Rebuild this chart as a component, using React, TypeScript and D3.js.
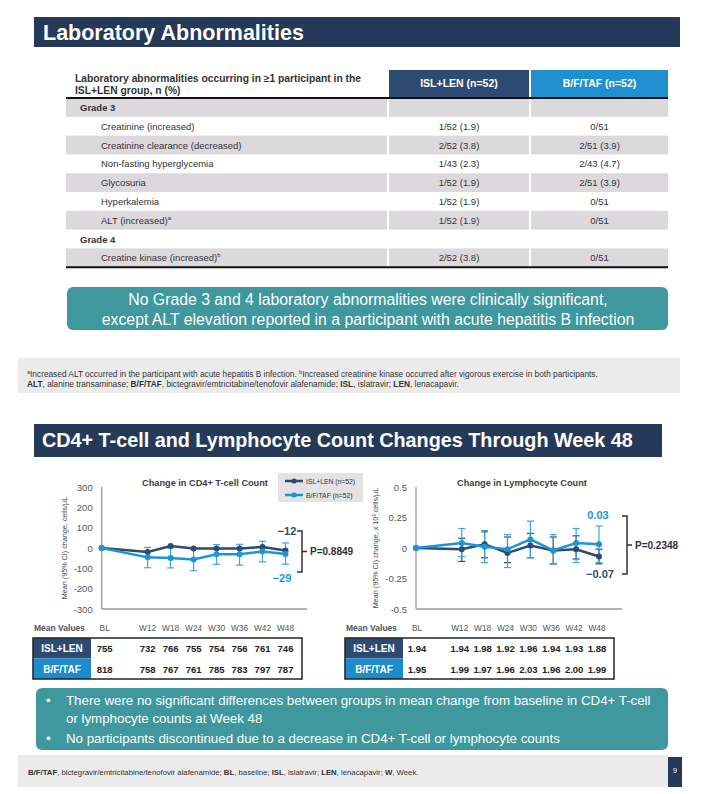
import React from 'react';
import * as d3 from 'd3';

const FONT = '"Liberation Sans", Arial, Helvetica, sans-serif';
const NAVY = '#253a58';
const DARK = '#2c4a72';
const LIGHT = '#1c95d3';
const LIGHT_ERR = '#3aa6dc';
const TEAL = '#3e989e';
const GRAY_ROW = '#dcd9dd';

// ---------- Table data ----------
const labLabels = [
  'Grade 3',
  'Creatinine (increased)',
  'Creatinine clearance (decreased)',
  'Non-fasting hyperglycemia',
  'Glycosuria',
  'Hyperkalemia',
  'ALT (increased)',
  'Grade 4',
  'Creatine kinase (increased)',
];
const labSup = ['', '', '', '', '', '', 'a', '', 'b'];
const labIsGrade = [true, false, false, false, false, false, false, true, false];
const labIsl = ['', '1/52 (1.9)', '2/52 (3.8)', '1/43 (2.3)', '1/52 (1.9)', '1/52 (1.9)', '1/52 (1.9)', '', '2/52 (3.8)'];
const labBf = ['', '0/51', '2/51 (3.9)', '2/43 (4.7)', '2/51 (3.9)', '0/51', '0/51', '', '0/51'];

// ---------- Chart data ----------
const weeks = [0, 12, 18, 24, 30, 36, 42, 48];
const weekLabels = ['BL', 'W12', 'W18', 'W24', 'W30', 'W36', 'W42', 'W48'];

const cd4IslChange = [0, -20, 10, -2, -3, -3, 5, -12];
const cd4BfChange = [0, -46, -49, -56, -31, -31, -17, -29];
const cd4BfLow = [0, -97, -98, -112, -80, -84, -68, -80];
const cd4BfHigh = [0, 3, 0, 0, 17, 18, 33, 25];
const cd4Ticks = [300, 200, 100, 0, -100, -200, -300];

const lymIslChange = [0, -0.01, 0.03, -0.04, 0.02, -0.02, -0.01, -0.07];
const lymIslLow = [0, -0.11, -0.08, -0.12, -0.08, -0.13, -0.09, -0.13];
const lymIslHigh = [0, 0.08, 0.14, 0.09, 0.12, 0.09, 0.1, -0.01];
const lymBfChange = [0, 0.04, 0.01, -0.01, 0.07, -0.02, 0.04, 0.03];
const lymBfLow = [0, -0.07, -0.12, -0.16, -0.08, -0.13, -0.12, -0.12];
const lymBfHigh = [0, 0.16, 0.13, 0.11, 0.22, 0.11, 0.16, 0.18];
const lymTicks = [0.5, 0.25, 0, -0.25, -0.5];

const cd4IslMean = ['755', '732', '766', '755', '754', '756', '761', '746'];
const cd4BfMean = ['818', '758', '767', '761', '785', '783', '797', '787'];
const lymIslMean = ['1.94', '1.94', '1.98', '1.92', '1.96', '1.94', '1.93', '1.88'];
const lymBfMean = ['1.95', '1.99', '1.97', '1.96', '2.03', '1.96', '2.00', '1.99'];

type Series = {
  values: number[];
  low?: number[];
  high?: number[];
  color: string;
  errColor: string;
};

type ChartProps = {
  x0: number;
  x48: number;
  axisEnd: number;
  domain: [number, number];
  ticks: number[];
  tickFmt: (v: number) => string;
  series: Series[];
  title: string;
  titleX: number;
  yTitle: string;
  yTitleX: number;
  endLabels: { text: string; color: string; x: number; y: number }[];
  bracketX: number;
  bracketTop: number;
  bracketBot: number;
  pText: string;
};

function ChangeChart(p: ChartProps) {
  const x = d3.scaleLinear().domain([0, 48]).range([p.x0, p.x48]);
  const y = d3.scaleLinear().domain(p.domain).range([609, 487]);
  const line = d3
    .line<number>()
    .x((_, i) => x(weeks[i]))
    .y((d) => y(d));
  const mid = (p.bracketTop + p.bracketBot) / 2;
  return (
    <g fontFamily={FONT}>
      <text x={p.titleX} y={486} textAnchor="middle" fontSize={9.2} fontWeight="bold" fill="#404040">
        {p.title}
      </text>
      <text
        transform={`translate(${p.yTitleX},548) rotate(-90)`}
        textAnchor="middle"
        fontSize={7.2}
        fill="#444"
      >
        {p.yTitle}
      </text>
      <line x1={p.x0} x2={p.x0} y1={y(p.domain[1])} y2={y(p.domain[0])} stroke="#9a9a9a" strokeWidth={1.3} />
      <line x1={p.x0} x2={p.axisEnd} y1={y(p.domain[0])} y2={y(p.domain[0])} stroke="#9a9a9a" strokeWidth={1.3} />
      {p.ticks.map((t) => (
        <text key={t} x={p.x0 - 9} y={y(t) + 3.5} textAnchor="end" fontSize={9.5} fill="#555">
          {p.tickFmt(t)}
        </text>
      ))}
      {p.series.map((s, si) =>
        s.low && s.high
          ? weeks.map((w, i) =>
              s.low![i] === s.high![i] ? null : (
                <g key={`e${si}-${i}`} stroke={s.errColor} strokeWidth={1.2}>
                  <line x1={x(w)} x2={x(w)} y1={y(s.low![i])} y2={y(s.high![i])} />
                  <line x1={x(w) - 3.5} x2={x(w) + 3.5} y1={y(s.low![i])} y2={y(s.low![i])} />
                  <line x1={x(w) - 3.5} x2={x(w) + 3.5} y1={y(s.high![i])} y2={y(s.high![i])} />
                </g>
              )
            )
          : null
      )}
      {p.series.map((s, si) => (
        <g key={`s${si}`}>
          <path d={line(s.values) || ''} fill="none" stroke={s.color} strokeWidth={2.5} />
          {s.values.map((v, i) => (
            <circle key={i} cx={x(weeks[i])} cy={y(v)} r={3} fill={s.color} />
          ))}
        </g>
      ))}
      {p.endLabels.map((l, i) => (
        <text key={i} x={l.x} y={l.y + 4} textAnchor="middle" fontSize={11} fontWeight="bold" fill={l.color}>
          {l.text}
        </text>
      ))}
      <path
        d={`M${p.bracketX - 5},${p.bracketTop}H${p.bracketX}V${p.bracketBot}H${p.bracketX - 5}M${p.bracketX},${mid}H${p.bracketX + 5}`}
        fill="none"
        stroke="#333"
        strokeWidth={1.5}
      />
      <text x={p.bracketX + 8} y={mid + 3.5} fontSize={10} fontWeight="bold" fill="#333">
        {p.pText}
      </text>
    </g>
  );
}

function MeanTable(props: { x0: number; x48: number; left: number; right: number; isl: string[]; bf: string[] }) {
  const x = d3.scaleLinear().domain([0, 48]).range([props.x0, props.x48]);
  const top = 638;
  const rh = 20.5;
  const labW = 58;
  const cx = (i: number) => (i === 0 ? x(weeks[i]) + 3 : x(weeks[i]));
  return (
    <g fontFamily={FONT}>
      <text x={props.left + 1} y={631} fontSize={8.5} fontWeight="bold" fill="#555">
        Mean Values
      </text>
      {weekLabels.map((w, i) => (
        <text key={w} x={cx(i)} y={631} textAnchor="middle" fontSize={8.3} fill="#555">
          {w}
        </text>
      ))}
      <rect x={props.left} y={top} width={labW} height={rh} fill={DARK} />
      <rect x={props.left} y={top + rh} width={labW} height={rh} fill="#1e8bcb" />
      <text x={props.left + labW / 2} y={top + 14} textAnchor="middle" fontSize={10} fontWeight="bold" fill="#fff">
        ISL+LEN
      </text>
      <text x={props.left + labW / 2} y={top + rh + 14} textAnchor="middle" fontSize={10} fontWeight="bold" fill="#fff">
        B/F/TAF
      </text>
      <rect x={props.left} y={top} width={props.right - props.left} height={rh * 2} fill="none" stroke="#222" strokeWidth={1.5} />
      {props.isl.map((v, i) => (
        <text key={`i${i}`} x={cx(i)} y={top + 14} textAnchor="middle" fontSize={9.5} fontWeight="bold" fill="#222">
          {v}
        </text>
      ))}
      {props.bf.map((v, i) => (
        <text key={`b${i}`} x={cx(i)} y={top + rh + 14} textAnchor="middle" fontSize={9.5} fontWeight="bold" fill="#222">
          {v}
        </text>
      ))}
    </g>
  );
}

export default function App() {
  const rowTop = 98;
  const rowH = 18.8;
  const c1 = [66, 387];
  const c2 = [389, 529];
  const c3 = [531, 668];
  return (
    <svg
      width={702}
      height={794}
      viewBox="0 0 702 794"
      style={{ position: 'absolute', left: 0, top: 0, background: '#fff' }}
      fontFamily={FONT}
    >
      <rect width={702} height={794} fill="#fff" />
      {/* Title 1 */}
      <rect x={34} y={17} width={646} height={30} fill={NAVY} />
      <text x={43} y={39.5} fontSize={21.5} fontWeight="bold" fill="#fff">
        Laboratory Abnormalities
      </text>

      {/* Table header */}
      <text x={75} y={82} fontSize={10.3} fontWeight="bold" fill="#333">
        Laboratory abnormalities occurring in ≥1 participant in the
      </text>
      <text x={75} y={94} fontSize={10.3} fontWeight="bold" fill="#333">
        ISL+LEN group, n (%)
      </text>
      <rect x={c2[0]} y={70} width={c2[1] - c2[0]} height={27} fill={DARK} />
      <rect x={c3[0]} y={70} width={c3[1] - c3[0]} height={27} fill="#1e8fcf" />
      <text x={(c2[0] + c2[1]) / 2} y={87} textAnchor="middle" fontSize={10.5} fontWeight="bold" fill="#fff">
        ISL+LEN (n=52)
      </text>
      <text x={(c3[0] + c3[1]) / 2} y={87} textAnchor="middle" fontSize={10.5} fontWeight="bold" fill="#fff">
        B/F/TAF (n=52)
      </text>

      {/* Table rows */}
      {labLabels.map((lab, i) => {
        const y0 = rowTop + i * rowH;
        const cy = y0 + rowH / 2 + 3.5;
        const gray = i % 2 === 0;
        return (
          <g key={lab}>
            {gray && (
              <g fill={GRAY_ROW}>
                <rect x={c1[0]} y={y0} width={c1[1] - c1[0]} height={rowH} />
                <rect x={c2[0]} y={y0} width={c2[1] - c2[0]} height={rowH} />
                <rect x={c3[0]} y={y0} width={c3[1] - c3[0]} height={rowH} />
              </g>
            )}
            <text
              x={labIsGrade[i] ? 80 : 101}
              y={cy}
              fontSize={9.5}
              fontWeight={labIsGrade[i] ? 'bold' : 'normal'}
              fill="#333"
            >
              {lab}
              {labSup[i] && (
                <tspan fontSize={6} dy={-4}>
                  {labSup[i]}
                </tspan>
              )}
            </text>
            <text x={(c2[0] + c2[1]) / 2} y={cy} textAnchor="middle" fontSize={9.5} fill="#333">
              {labIsl[i]}
            </text>
            <text x={(c3[0] + c3[1]) / 2} y={cy} textAnchor="middle" fontSize={9.5} fill="#333">
              {labBf[i]}
            </text>
          </g>
        );
      })}
      <line x1={66} x2={668} y1={rowTop} y2={rowTop} stroke="#111" strokeWidth={2} />
      <line x1={66} x2={668} y1={rowTop + rowH * 9} y2={rowTop + rowH * 9} stroke="#111" strokeWidth={2} />

      {/* Teal callout 1 */}
      <rect x={67} y={287} width={601} height={43} rx={6} fill={TEAL} />
      <text x={368} y={305} textAnchor="middle" fontSize={15.8} fill="#fff">
        No Grade 3 and 4 laboratory abnormalities were clinically significant,
      </text>
      <text x={368} y={325} textAnchor="middle" fontSize={15.8} fill="#fff">
        except ALT elevation reported in a participant with acute hepatitis B infection
      </text>

      {/* Footnote band */}
      <rect x={18} y={358} width={662} height={35} fill="#ebebeb" />
      <text x={27} y={377} fontSize={8.3} fill="#333">
        <tspan fontSize={5.5} dy={-3}>a</tspan>
        <tspan dy={3}>Increased ALT occurred in the participant with acute hepatitis B infection. </tspan>
        <tspan fontSize={5.5} dy={-3}>b</tspan>
        <tspan dy={3}>Increased creatinine kinase occurred after vigorous exercise in both participants.</tspan>
      </text>
      <text x={27} y={387} fontSize={8.3} fill="#333">
        <tspan fontWeight="bold">ALT</tspan>, alanine transaminase; <tspan fontWeight="bold">B/F/TAF</tspan>,
        bictegravir/emtricitabine/tenofovir alafenamide; <tspan fontWeight="bold">ISL</tspan>, islatravir;{' '}
        <tspan fontWeight="bold">LEN</tspan>, lenacapavir.
      </text>

      {/* Title 2 */}
      <rect x={34} y={424} width={628} height={33} fill={NAVY} />
      <text x={42} y={447} fontSize={19.8} fontWeight="bold" fill="#fff">
        CD4+ T-cell and Lymphocyte Count Changes Through Week 48
      </text>

      {/* CD4 chart */}
      <ChangeChart
        x0={101.7}
        x48={285.5}
        axisEnd={307}
        domain={[-300, 300]}
        ticks={cd4Ticks}
        tickFmt={(v) => String(v)}
        series={[
          { values: cd4IslChange, color: DARK, errColor: DARK },
          { values: cd4BfChange, low: cd4BfLow, high: cd4BfHigh, color: LIGHT, errColor: LIGHT_ERR },
        ]}
        title="Change in CD4+ T-cell Count"
        titleX={205}
        yTitle="Mean (95% CI) change, cells/μL"
        yTitleX={67}
        endLabels={[
          { text: '−12', color: DARK, x: 287, y: 531 },
          { text: '−29', color: LIGHT, x: 282, y: 578 },
        ]}
        bracketX={302}
        bracketTop={531}
        bracketBot={572}
        pText="P=0.8849"
      />
      {/* Legend */}
      <rect x={278} y={473} width={85} height={29} fill="#e3e3e3" />
      <line x1={285} x2={303} y1={481} y2={481} stroke={DARK} strokeWidth={2.5} />
      <circle cx={294} cy={481} r={2.6} fill={DARK} />
      <text x={306} y={483.5} fontSize={6.8} fill="#333">
        ISL+LEN (n=52)
      </text>
      <line x1={285} x2={303} y1={495} y2={495} stroke={LIGHT} strokeWidth={2.5} />
      <circle cx={294} cy={495} r={2.6} fill={LIGHT} />
      <text x={306} y={497.5} fontSize={6.8} fill="#333">
        B/F/TAF (n=52)
      </text>

      {/* Lymphocyte chart */}
      <ChangeChart
        x0={416}
        x48={599}
        axisEnd={622}
        domain={[-0.5, 0.5]}
        ticks={lymTicks}
        tickFmt={(v) => String(v)}
        series={[
          { values: lymIslChange, low: lymIslLow, high: lymIslHigh, color: DARK, errColor: DARK },
          { values: lymBfChange, low: lymBfLow, high: lymBfHigh, color: LIGHT, errColor: LIGHT_ERR },
        ]}
        title="Change in Lymphocyte Count"
        titleX={522}
        yTitle="Mean (95% CI) change, x 10³ cells/μL"
        yTitleX={378}
        endLabels={[
          { text: '0.03', color: LIGHT, x: 598, y: 515 },
          { text: '−0.07', color: DARK, x: 600, y: 574 },
        ]}
        bracketX={627}
        bracketTop={516}
        bracketBot={574}
        pText="P=0.2348"
      />

      {/* Mean value tables */}
      <MeanTable x0={101.7} x48={285.5} left={33} right={302} isl={cd4IslMean} bf={cd4BfMean} />
      <MeanTable x0={414} x48={597} left={345} right={614} isl={lymIslMean} bf={lymBfMean} />

      {/* Teal callout 2 */}
      <rect x={36} y={688} width={632} height={62} rx={6} fill={TEAL} />
      <g fontSize={13.3} fill="#fff">
        <text x={46} y={705}>•</text>
        <text x={66} y={705}>
          There were no significant differences between groups in mean change from baseline in CD4+ T-cell
        </text>
        <text x={66} y={723}>or lymphocyte counts at Week 48</text>
        <text x={46} y={743}>•</text>
        <text x={66} y={743}>No participants discontinued due to a decrease in CD4+ T-cell or lymphocyte counts</text>
      </g>

      {/* Footer */}
      <rect x={18} y={755} width={650} height={32} fill="#ebebeb" />
      <text x={28} y={775} fontSize={7.75} fill="#333">
        <tspan fontWeight="bold">B/F/TAF</tspan>, bictegravir/emtricitabine/tenofovir alafenamide;{' '}
        <tspan fontWeight="bold">BL</tspan>, baseline; <tspan fontWeight="bold">ISL</tspan>, islatravir;{' '}
        <tspan fontWeight="bold">LEN</tspan>, lenacapavir; <tspan fontWeight="bold">W</tspan>, Week.
      </text>
      <rect x={668} y={757} width={14} height={30} fill={NAVY} />
      <text x={675} y={773} textAnchor="middle" fontSize={7} fill="#fff">
        9
      </text>
    </svg>
  );
}
